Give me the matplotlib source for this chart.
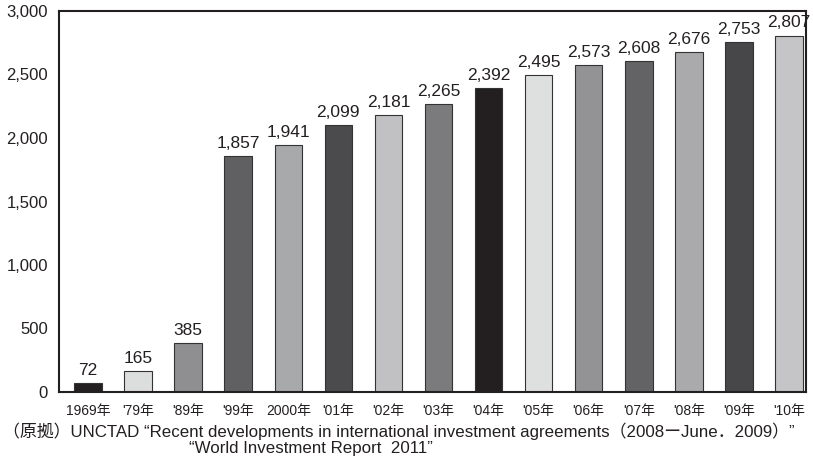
import matplotlib.pyplot as plt
from matplotlib.ticker import FuncFormatter

plt.rcParams['font.family'] = ['Liberation Sans', 'Noto Sans CJK JP', 'DejaVu Sans']

# 年ラベルと件数
years = ['1969年', '\'79年', '\'89年', '\'99年', '2000年', '\'01年', '\'02年', '\'03年',
         '\'04年', '\'05年', '\'06年', '\'07年', '\'08年', '\'09年', '\'10年']
counts = [72, 165, 385, 1857, 1941, 2099, 2181, 2265, 2392, 2495, 2573, 2608, 2676, 2753, 2807]
colors = ['#231f20', '#dcdddd', '#8f8f91', '#606062', '#a8a9ab', '#4b4b4d', '#c1c1c3', '#7b7b7d',
          '#231f20', '#dedfdf', '#939395', '#636365', '#aaaaac', '#474749', '#c5c5c7']

fig = plt.figure(figsize=(8.13, 4.59), dpi=100)
ax = fig.add_axes([59 / 813, 1 - 392 / 459, (806 - 59) / 813, (392 - 11) / 459])

x = range(len(years))
ax.bar(x, counts, width=0.55, color=colors, edgecolor='#333333', linewidth=0.8)

for xi, v in zip(x, counts):
    ax.text(xi, v + 40, f'{v:,}', ha='center', va='bottom', fontsize=12.5, color='#231f20')

ax.set_xlim(-0.58, len(years) - 1 + 0.34)
ax.set_ylim(0, 3000)
ax.set_yticks(range(0, 3001, 500))
ax.yaxis.set_major_formatter(FuncFormatter(lambda v, p: f'{int(v):,}'))
ax.set_xticks(list(x))
ax.set_xticklabels(years, fontsize=10)
ax.tick_params(axis='both', length=0, colors='#231f20')
ax.tick_params(axis='y', labelsize=12, pad=8)
ax.tick_params(axis='x', pad=9)
for s in ax.spines.values():
    s.set_linewidth(1.5)
    s.set_color('#231f20')

# 出所
fig.text(3 / 813, 1 - 431 / 459,
         '（原拠）UNCTAD “Recent developments in international investment agreements（2008ーJune．2009）”',
         fontsize=12.2, va='center', ha='left', color='#231f20')
fig.text(189 / 813, 1 - 449 / 459, '“World Investment Report  2011”',
         fontsize=12.2, va='center', ha='left', color='#231f20')

fig.savefig('out.png', dpi=100)
